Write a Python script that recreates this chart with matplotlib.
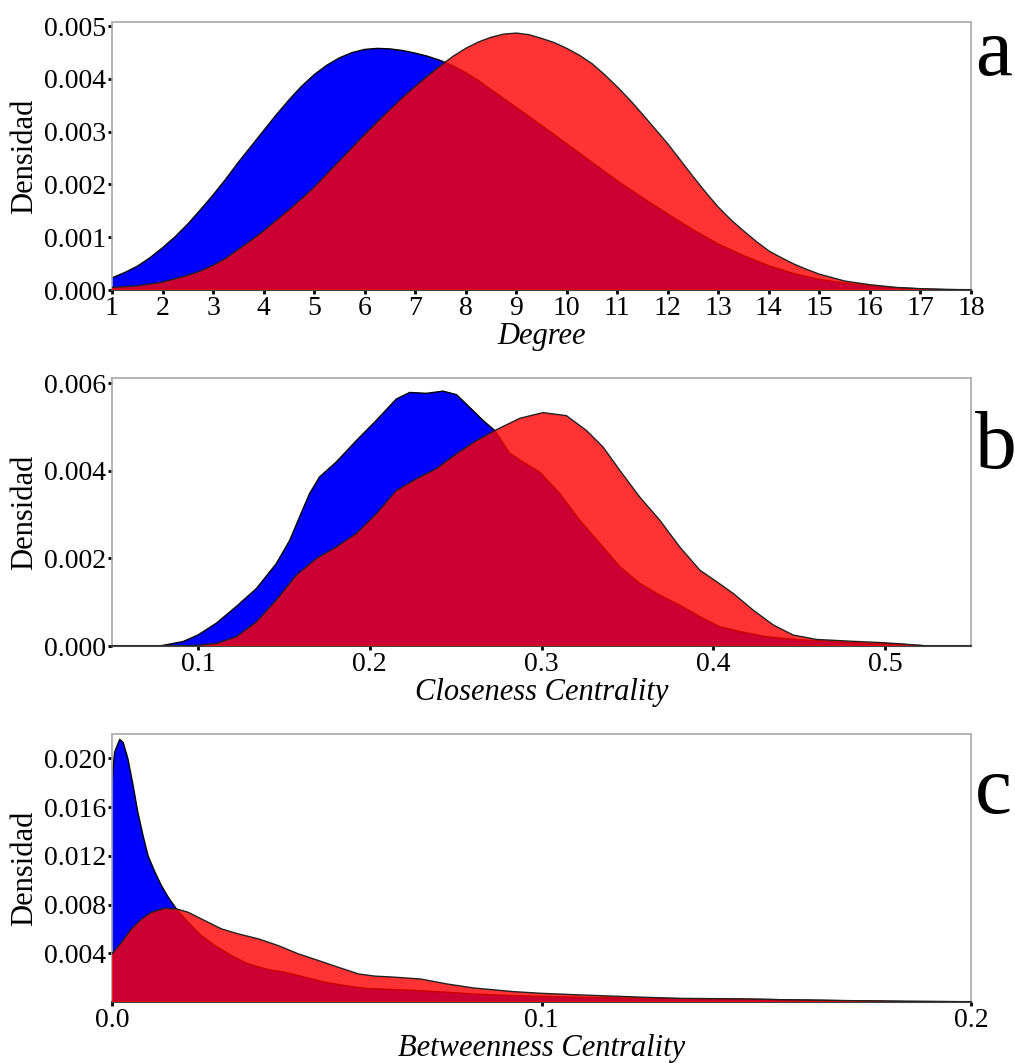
import numpy as np
import matplotlib.pyplot as plt

plt.rcParams['font.family'] = ['Liberation Serif', 'DejaVu Serif']

# Panel a - Degree (densities in units of 1e-3)
deg_x_blue = [1.0, 1.25, 1.5, 1.75, 2.0, 2.25, 2.5, 2.75, 3.0, 3.25, 3.5, 3.75, 4.0,
              4.25, 4.5, 4.75, 5.0, 5.25, 5.5, 5.75, 6.0, 6.25, 6.5, 6.75, 7.0,
              7.25, 7.5, 7.75, 8.0, 8.25, 8.5, 8.75, 9.0, 9.5, 10.0, 10.5, 11.0,
              11.5, 12.0, 12.5, 13.0, 13.5, 14.0, 14.5, 15.0, 15.5, 16.0, 16.5,
              17.0, 17.5, 18.0]
deg_y_blue = [0.23, 0.33, 0.45, 0.61, 0.80, 1.01, 1.25, 1.52, 1.80, 2.10, 2.42,
              2.72, 3.02, 3.32, 3.60, 3.86, 4.08, 4.26, 4.40, 4.50, 4.56, 4.58,
              4.57, 4.54, 4.49, 4.43, 4.35, 4.25, 4.12, 3.97, 3.80, 3.63, 3.46,
              3.12, 2.77, 2.42, 2.07, 1.75, 1.44, 1.14, 0.87, 0.65, 0.46, 0.31,
              0.20, 0.13, 0.08, 0.045, 0.02, 0.008, 0.003]
deg_x_red = [1.0, 1.5, 2.0, 2.5, 2.75, 3.0, 3.25, 3.5, 3.75, 4.0, 4.25, 4.5, 4.75,
             5.0, 5.25, 5.5, 5.75, 6.0, 6.25, 6.5, 6.75, 7.0, 7.25, 7.5, 7.75,
             8.0, 8.25, 8.5, 8.75, 9.0, 9.25, 9.5, 9.75, 10.0, 10.25, 10.5, 10.75,
             11.0, 11.25, 11.5, 11.75, 12.0, 12.25, 12.5, 12.75, 13.0, 13.25,
             13.5, 13.75, 14.0, 14.25, 14.5, 14.75, 15.0, 15.5, 16.0, 16.5, 17.0,
             17.5, 18.0]
deg_y_red = [0.05, 0.08, 0.15, 0.28, 0.36, 0.47, 0.60, 0.77, 0.94, 1.12, 1.32,
             1.52, 1.73, 1.95, 2.20, 2.45, 2.70, 2.95, 3.19, 3.42, 3.65, 3.86,
             4.06, 4.25, 4.43, 4.58, 4.70, 4.79, 4.85, 4.87, 4.84, 4.77, 4.69,
             4.58, 4.45, 4.29, 4.08, 3.85, 3.60, 3.33, 3.05, 2.77, 2.46, 2.15,
             1.85, 1.57, 1.33, 1.12, 0.92, 0.74, 0.61, 0.49, 0.39, 0.30, 0.17,
             0.10, 0.05, 0.025, 0.01, 0.004]

# Panel b - Closeness Centrality (1e-3)
clo_x_blue = [0.05, 0.0777, 0.0913, 0.1, 0.1107, 0.1223, 0.134, 0.1456, 0.1534,
              0.1592, 0.165, 0.1708, 0.1805, 0.1922, 0.2038, 0.2155, 0.2233,
              0.233, 0.2427, 0.2505, 0.2582, 0.266, 0.2728, 0.2815, 0.2893,
              0.299, 0.3106, 0.3223, 0.334, 0.3456, 0.3572, 0.3689, 0.3805,
              0.3922, 0.4038, 0.4155, 0.431, 0.4504, 0.4698, 0.4892, 0.5086,
              0.525, 0.55]
clo_y_blue = [0, 0, 0.1, 0.25, 0.52, 0.9, 1.31, 1.88, 2.41, 2.95, 3.48, 3.86, 4.2,
              4.69, 5.15, 5.64, 5.79, 5.77, 5.82, 5.74, 5.45, 5.15, 4.92, 4.4,
              4.2, 3.97, 3.48, 2.87, 2.34, 1.81, 1.43, 1.16, 0.93, 0.67, 0.44,
              0.33, 0.21, 0.14, 0.1, 0.06, 0.04, 0, 0]
clo_x_red = [0.05, 0.0913, 0.101, 0.1107, 0.1223, 0.134, 0.1456, 0.1573, 0.169,
             0.1805, 0.1922, 0.2038, 0.2155, 0.2272, 0.2388, 0.2505, 0.2621,
             0.2728, 0.2874, 0.3009, 0.3145, 0.3262, 0.3359, 0.3456, 0.3572,
             0.3689, 0.3805, 0.3922, 0.4019, 0.4116, 0.4232, 0.4349, 0.4465,
             0.46, 0.4795, 0.4989, 0.5086, 0.525, 0.55]
clo_y_red = [0, 0, 0.02, 0.06, 0.21, 0.55, 1.05, 1.62, 2.0, 2.26, 2.57, 3.02,
             3.55, 3.82, 4.05, 4.39, 4.69, 4.92, 5.2, 5.33, 5.26, 4.92, 4.54,
             4.01, 3.4, 2.87, 2.26, 1.73, 1.47, 1.2, 0.82, 0.48, 0.25, 0.15,
             0.11, 0.076, 0.05, 0, 0]

# Panel c - Betweenness Centrality (1e-3)
bet_x_blue = [0, 0.0006, 0.0018, 0.0026, 0.0037, 0.0049, 0.006, 0.0072, 0.0084,
              0.0100, 0.0115, 0.0131, 0.0150, 0.0177, 0.0208, 0.0240, 0.0278,
              0.0317, 0.0364, 0.0403, 0.0450, 0.0496, 0.0543, 0.0589, 0.0636,
              0.0718, 0.078, 0.0842, 0.0935, 0.1091, 0.1246, 0.1324, 0.148,
              0.1557, 0.17, 0.185, 0.2]
bet_y_blue = [18.05, 20.5, 21.56, 21.3, 19.97, 17.8, 15.6, 13.7, 12.0, 10.66,
              9.56, 8.6, 7.64, 6.55, 5.45, 4.63, 3.81, 3.12, 2.66, 2.44, 2.03,
              1.62, 1.34, 1.12, 1.05, 0.93, 0.8, 0.66, 0.52, 0.38, 0.3, 0.27,
              0.23, 0.19, 0.11, 0.05, 0.02]
bet_x_red = [0, 0.0022, 0.0045, 0.0069, 0.0092, 0.0123, 0.0150, 0.0177, 0.0216,
             0.0255, 0.0294, 0.0341, 0.0387, 0.0434, 0.0481, 0.0527, 0.0574,
             0.0613, 0.0652, 0.0718, 0.078, 0.0842, 0.0935, 0.1001, 0.1091,
             0.1246, 0.1324, 0.148, 0.1557, 0.17, 0.185, 0.2]
bet_y_red = [3.95, 4.9, 6.0, 6.82, 7.37, 7.7, 7.64, 7.37, 6.68, 6.0, 5.59, 5.18,
             4.63, 3.95, 3.4, 2.85, 2.3, 2.12, 2.05, 1.89, 1.48, 1.15, 0.85,
             0.71, 0.58, 0.38, 0.3, 0.25, 0.19, 0.12, 0.05, 0.02]

panels = [
    dict(xb=deg_x_blue, yb=np.array(deg_y_blue) * 1e-3,
         xr=deg_x_red, yr=np.array(deg_y_red) * 1e-3,
         xlim=(1, 18), ylim=(0, 0.00508), xticks=range(1, 19),
         xticklabels=[str(i) for i in range(1, 19)],
         yticks=[0, 0.001, 0.002, 0.003, 0.004, 0.005],
         yticklabels=['0.000', '0.001', '0.002', '0.003', '0.004', '0.005'],
         xlabel='Degree', letter='a'),
    dict(xb=clo_x_blue, yb=np.array(clo_y_blue) * 1e-3,
         xr=clo_x_red, yr=np.array(clo_y_red) * 1e-3,
         xlim=(0.05, 0.55), ylim=(0, 0.00612),
         xticks=[0.1, 0.2, 0.3, 0.4, 0.5],
         xticklabels=['0.1', '0.2', '0.3', '0.4', '0.5'],
         yticks=[0, 0.002, 0.004, 0.006],
         yticklabels=['0.000', '0.002', '0.004', '0.006'],
         xlabel='Closeness Centrality', letter='b'),
    dict(xb=bet_x_blue, yb=np.array(bet_y_blue) * 1e-3,
         xr=bet_x_red, yr=np.array(bet_y_red) * 1e-3,
         xlim=(0, 0.2), ylim=(0, 0.0220),
         xticks=[0, 0.1, 0.2], xticklabels=['0.0', '0.1', '0.2'],
         yticks=[0.004, 0.008, 0.012, 0.016, 0.020],
         yticklabels=['0.004', '0.008', '0.012', '0.016', '0.020'],
         xlabel='Betweenness Centrality', letter='c'),
]

W, H = 1015, 1063
fig = plt.figure(figsize=(W / 100, H / 100), dpi=100)
boxes = [(112, 22, 971, 290), (112, 378, 971, 646), (112, 734, 971, 1002)]
letter_base = [75, 468, 813]

for p, (l, t, r, b), lb in zip(panels, boxes, letter_base):
    ax = fig.add_axes([l / W, 1 - b / H, (r - l) / W, (b - t) / H])
    ax.fill_between(p['xb'], 0, p['yb'], facecolor='#0000ff', edgecolor='none', zorder=1)
    ax.plot(p['xb'], p['yb'], color='black', lw=1.0, zorder=2)
    ax.fill_between(p['xr'], 0, p['yr'], facecolor='#ff0000', alpha=0.8,
                    edgecolor='none', zorder=3)
    ax.plot(p['xr'], p['yr'], color='#222222', lw=1.0, zorder=4)

    ax.set_xlim(*p['xlim'])
    ax.set_ylim(*p['ylim'])
    ax.set_xticks(list(p['xticks']))
    ax.set_xticklabels(p['xticklabels'])
    ax.set_yticks(p['yticks'])
    ax.set_yticklabels(p['yticklabels'])
    ax.tick_params(direction='out', length=3, width=2, color='black',
                   labelsize=20, pad=1)
    for side in ['top', 'right', 'left']:
        ax.spines[side].set_color('#a8a8a8')
        ax.spines[side].set_linewidth(1.2)
    ax.spines['bottom'].set_color('#444444')
    ax.spines['bottom'].set_linewidth(1.5)
    ax.set_xlabel(p['xlabel'], fontsize=22, fontstyle='italic', labelpad=1)
    ax.set_ylabel('Densidad', fontsize=22, labelpad=4)
    fig.text(975 / W, 1 - lb / H, p['letter'], fontsize=60, ha='left', va='baseline')

fig.savefig('out.png', dpi=100, facecolor='white')
